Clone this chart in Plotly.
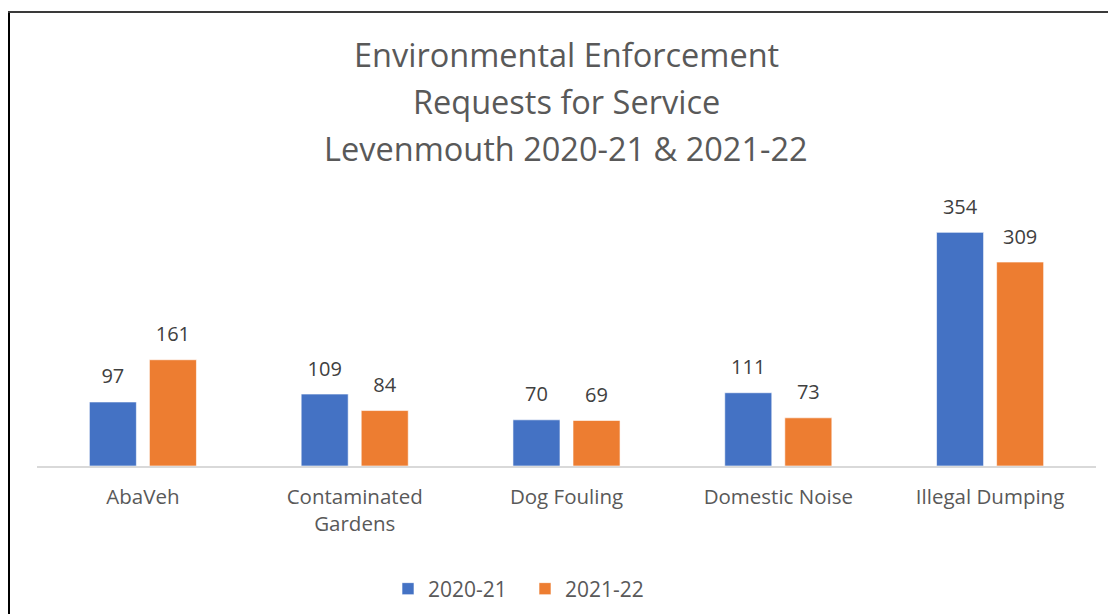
import plotly.graph_objects as go

categories = ["AbaVeh", "Contaminated<br>Gardens", "Dog Fouling", "Domestic Noise", "Illegal Dumping"]
series_names = ["2020-21", "2021-22"]
values_2020_21 = [97, 109, 70, 111, 354]
values_2021_22 = [161, 84, 69, 73, 309]
title_lines = ["Environmental Enforcement", "Requests for Service", "Levenmouth 2020-21 & 2021-22"]

# page has an 8px body margin, so the figure is laid out in page coords minus 8
OFF = 8
W, H = 1116 - OFF, 614 - OFF
ml, mr, mt, mb = 37 - OFF, 20, 202 - OFF, 148
pw, ph = W - ml - mr, H - mt - mb

def px_x(x):
    return (x - OFF - ml) / pw

def px_y(y):
    return (H - mb - (y - OFF)) / ph

colors = ["#4472C4", "#ED7D31"]
GAP = 0.433
fig = go.Figure()
for i, (name, vals, c) in enumerate(zip(series_names, [values_2020_21, values_2021_22], colors)):
    fig.add_trace(go.Bar(
        x=categories, y=vals, name=name, offsetgroup=str(i),
        marker=dict(color=c, line=dict(color="rgba(255,255,255,0.6)", width=1)),
    ))
for i, vals in enumerate([values_2020_21, values_2021_22]):
    fig.add_trace(go.Scatter(
        x=categories, y=vals, mode="markers+text", offsetgroup=str(i),
        marker=dict(size=20, opacity=0), text=[str(v) for v in vals],
        textposition="top center", showlegend=False, hoverinfo="skip",
        textfont=dict(family="Open Sans", size=20, color="#404040"), cliponaxis=False,
    ))

annotations = []
for line, yy in zip(title_lines, [55, 102, 148]):
    annotations.append(dict(text=line, xref="paper", yref="paper", x=px_x(566), y=px_y(yy),
                            xanchor="center", yanchor="middle", showarrow=False,
                            font=dict(family="Open Sans", size=32.5, color="#595959")))

shapes = [
    dict(type="line", xref="paper", yref="paper", x0=px_x(8.5), x1=px_x(8.5), y0=px_y(11), y1=px_y(640),
         line=dict(color="#000000", width=3)),
    dict(type="line", xref="paper", yref="paper", x0=px_x(7), x1=px_x(1130), y0=px_y(12), y1=px_y(12),
         line=dict(color="#3a3a3a", width=2)),
]

fig.update_layout(
    width=W, height=H,
    margin=dict(l=ml, r=mr, t=mt, b=mb),
    paper_bgcolor="white", plot_bgcolor="white",
    barmode="group", bargap=GAP, bargroupgap=0.2167,
    scattermode="group", scattergap=GAP,
    annotations=annotations, shapes=shapes,
    showlegend=True,
    legend=dict(orientation="h", xref="container", yref="container",
                x=(388 - OFF) / W, xanchor="left", y=(614 - 589) / H, yanchor="middle",
                font=dict(family="Open Sans", size=21, color="#595959"), itemwidth=30,
                entrywidth=92, entrywidthmode="pixels",
                traceorder="normal"),
    font=dict(family="Open Sans"),
)
fig.update_xaxes(showline=True, linecolor="#D9D9D9", linewidth=1.5, ticks="", showgrid=False,
                 ticklabelstandoff=12,
                 tickfont=dict(family="Open Sans", size=20.5, color="#595959"))
fig.update_yaxes(range=[0, 400], visible=False, showgrid=False, zeroline=False)

fig.write_html("out.html")
